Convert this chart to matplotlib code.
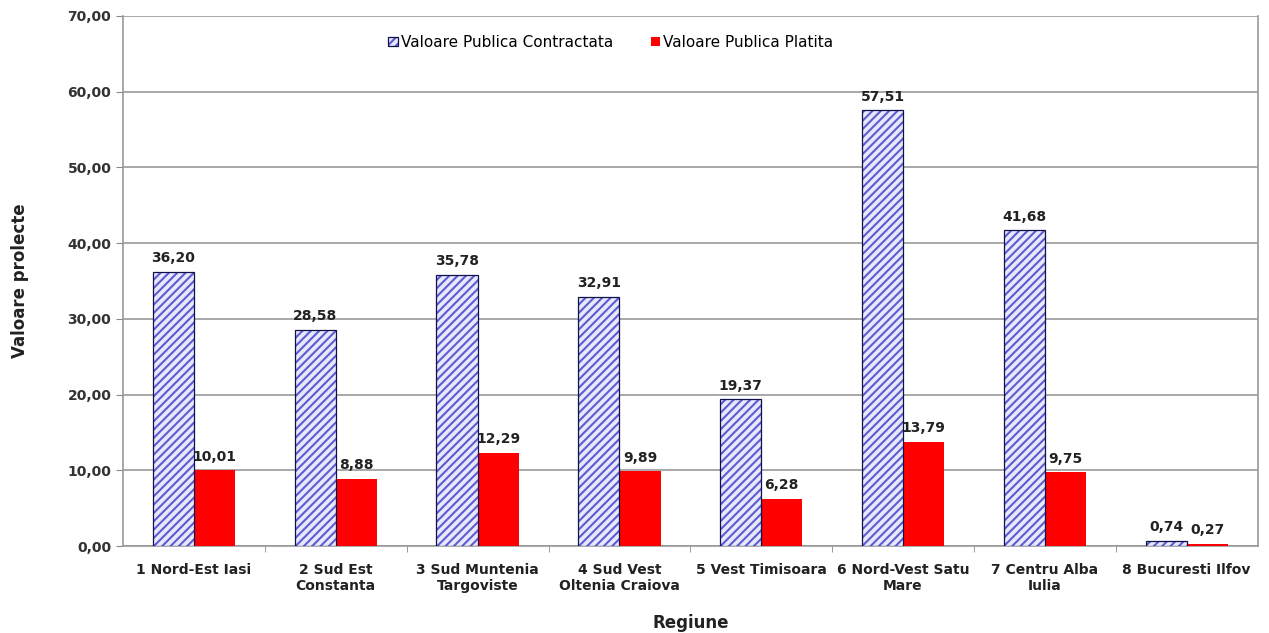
import matplotlib.pyplot as plt
import numpy as np

# Date pe regiuni
regiuni = ['1 Nord-Est Iasi', '2 Sud Est\nConstanta', '3 Sud Muntenia\nTargoviste',
           '4 Sud Vest\nOltenia Craiova', '5 Vest Timisoara', '6 Nord-Vest Satu\nMare',
           '7 Centru Alba\nIulia', '8 Bucuresti Ilfov']
contractata = [36.20, 28.58, 35.78, 32.91, 19.37, 57.51, 41.68, 0.74]
platita = [10.01, 8.88, 12.29, 9.89, 6.28, 13.79, 9.75, 0.27]
yticks = [0, 10, 20, 30, 40, 50, 60, 70]

plt.rcParams['font.family'] = ['DejaVu Sans']
plt.rcParams['hatch.linewidth'] = 1.5

fig, ax = plt.subplots(figsize=(12.69, 6.33), dpi=100)
fig.subplots_adjust(left=0.097, right=0.991, top=0.975, bottom=0.137)

x = np.arange(len(regiuni))
w = 0.29
# hasura albastra (culoarea hasurii vine din edgecolor), apoi conturul separat
b1 = ax.bar(x - w / 2, contractata, w, color='#e8e8fc', edgecolor='#5c5cd4', hatch='////',
            linewidth=0, zorder=3)
contur = ax.bar(x - w / 2, contractata, w, fill=False, edgecolor='#10104a', linewidth=0.9, zorder=4)
b2 = ax.bar(x + w / 2, platita, w, color='#ff0000', edgecolor='none', zorder=3)

for bars, vals in ((b1, contractata), (b2, platita)):
    for r, v in zip(bars, vals):
        ax.text(r.get_x() + r.get_width() / 2, v + 0.9, f'{v:.2f}'.replace('.', ','),
                ha='center', va='bottom', fontsize=10, fontweight='bold', color='#222222')

ax.set_xlim(-0.5, len(regiuni) - 0.5)
ax.set_ylim(0, 70)
ax.set_yticks(yticks)
ax.set_yticklabels([f'{t:.2f}'.replace('.', ',') for t in yticks], fontsize=10,
                   fontweight='bold', color='#333333')
ax.set_xticks(x)
ax.set_xticklabels(regiuni, fontsize=10, fontweight='bold', color='#222222')
ax.tick_params(axis='x', length=0, pad=12)
ax.set_xticks(np.arange(0.5, len(regiuni) - 0.5, 1), minor=True)
ax.tick_params(axis='x', which='minor', length=4, color='#888888')
ax.tick_params(axis='y', length=5, color='#888888')

ax.yaxis.grid(True, color='#999999', linewidth=1.2, zorder=0)
for s in ax.spines.values():
    s.set_color('#999999')
    s.set_linewidth(1.2)
ax.spines['top'].set_visible(False)

ax.set_ylabel('Valoare prolecte', fontsize=12, fontweight='bold', color='#222222', labelpad=28)
ax.set_xlabel('Regiune', fontsize=12, fontweight='bold', color='#222222', labelpad=15)

ax.legend([(b1[0], contur[0]), b2[0]],
          ['Valoare Publica Contractata', 'Valoare Publica Platita'],
          loc='upper center', bbox_to_anchor=(0.43, 0.99), ncol=2, frameon=False,
          fontsize=11, handlelength=0.6, handleheight=0.6, handletextpad=0.2, columnspacing=2.5)

fig.savefig('out.png')
